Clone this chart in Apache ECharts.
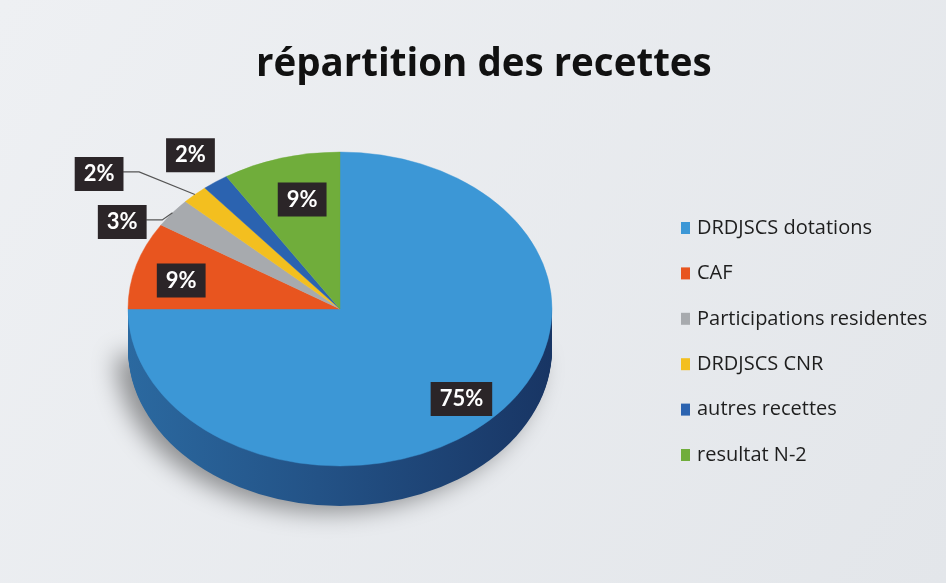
<!DOCTYPE html>
<html>
<head>
<meta charset="utf-8" />
<title>répartition des recettes</title>
<script src="https://cdn.jsdelivr.net/npm/echarts@6/dist/echarts.min.js"></script>
</head>
<body style="margin:0;">
<div id="main" style="width:946px;height:583px;"></div>
<script type="text/javascript">
/* données */
var categories = ['DRDJSCS dotations', 'CAF', 'Participations residentes', 'DRDJSCS CNR', 'autres recettes', 'resultat N-2'];
var values = [75, 9, 3, 2, 2, 9];
var colors = ['#3c97d6', '#e8551f', '#a7aaae', '#f3bf1f', '#2b63b0', '#70ad3b'];

/* mise en page du camembert (px) */
var CX = 340, CY = 309, R = 212, SY = 157 / 212, THICK = 40;
var labelFx = [0.81, 0.78, 1.30, 1.66, 1.20, 0.64];
var labelFy = [0.81, 0.65, 0.905, 1.18, 1.21, 0.726];
var leader = [false, false, true, true, false, false];

var total = values.reduce(function (a, b) { return a + b; }, 0);
var starts = [];
var acc = 0;
values.forEach(function (v) { starts.push(acc); acc += v; });

function ang(frac) { return -Math.PI / 2 + frac * 2 * Math.PI; }

/* couleur sombre de la paroi : mélange avec un bleu nuit */
function shade(hex, f) {
    var c = echarts.color.parse(hex), n = [18, 36, 80];
    return 'rgb(' + Math.round(c[0] * f + n[0] * (1 - f)) + ',' +
        Math.round(c[1] * f + n[1] * (1 - f)) + ',' + Math.round(c[2] * f + n[2] * (1 - f)) + ')';
}

function renderSlice(params, api) {
    var i = params.dataIndex;
    var a0 = ang(starts[i] / total), a1 = ang((starts[i] + api.value(0)) / total);
    var children = [];
    var c = colors[i];

    /* paroi avant : seulement la partie entre 0 et PI */
    var w0 = Math.max(a0, 0), w1 = Math.min(a1, Math.PI);
    if (w1 > w0) {
        var wallFill = new echarts.graphic.LinearGradient(0, 0, 1, 0, [
            { offset: 0, color: shade(c, 0.6) },
            { offset: 0.45, color: shade(c, 0.4) },
            { offset: 1, color: shade(c, 0.15) }
        ]);
        for (var k = THICK; k >= 1; k--) {
            children.push({
                type: 'sector', x: CX, y: CY + k, scaleY: SY, z2: 1,
                shape: { cx: 0, cy: 0, r: R, startAngle: w0, endAngle: w1 },
                style: k === THICK
                    ? { fill: wallFill, shadowBlur: 24, shadowColor: 'rgba(0,0,0,0.4)', shadowOffsetX: -12, shadowOffsetY: 6 }
                    : { fill: wallFill }
            });
        }
    }

    /* face du dessus */
    children.push({
        type: 'sector', x: CX, y: CY, scaleY: SY, z2: 5,
        shape: { cx: 0, cy: 0, r: R, startAngle: a0, endAngle: a1 },
        style: { fill: c, stroke: c, lineWidth: 0.5 }
    });

    /* étiquette */
    var mid = (a0 + a1) / 2;
    var lx = CX + Math.cos(mid) * R * labelFx[i];
    var ly = CY + Math.sin(mid) * R * SY * labelFy[i];
    var txt = Math.round(api.value(0) / total * 100) + '%';
    if (leader[i]) {
        var ex = CX + Math.cos(mid) * R, ey = CY + Math.sin(mid) * R * SY;
        children.push({
            type: 'polyline', z2: 8,
            shape: { points: [[lx + 24, ly - 2], [lx + 40, ly - 2], [ex, ey]] },
            style: { stroke: '#555', lineWidth: 1.2, fill: null }
        });
    }
    children.push({
        type: 'text', x: lx, y: ly, z2: 10,
        style: {
            text: txt, fill: '#ffffff', font: 'bold 22px Lato',
            align: 'center', verticalAlign: 'middle',
            backgroundColor: '#2b2528', padding: [7, 9, 5, 9],
            boxShadowBlur: 4, boxShadowColor: 'rgba(0,0,0,0.35)', boxShadowOffsetX: 2, boxShadowOffsetY: 2
        }
    });

    return { type: 'group', children: children };
}

var chart = echarts.init(document.getElementById('main'));
var option = {
    backgroundColor: new echarts.graphic.LinearGradient(0, 0, 1, 1, [
        { offset: 0, color: '#eef0f3' },
        { offset: 1, color: '#e3e6ea' }
    ]),
    color: colors,
    title: {
        text: 'répartition des recettes',
        left: 251,
        top: 41,
        textStyle: { fontFamily: 'Open Sans', fontWeight: 'bold', fontSize: 38.5, color: '#111' }
    },
    legend: {
        orient: 'vertical',
        left: 681,
        top: 218,
        padding: 0,
        itemWidth: 9,
        itemHeight: 12,
        itemGap: 25.4,
        icon: 'rect',
        data: categories,
        textStyle: { fontFamily: 'Open Sans', fontSize: 20, color: '#1e1e1e', lineHeight: 20, padding: [0, 0, 0, 2] }
    },
    series: [
        {
            /* série cachée : sert uniquement à la légende */
            type: 'pie',
            radius: [0, 0],
            center: [CX, CY],
            silent: true,
            label: { show: false },
            labelLine: { show: false },
            data: categories.map(function (n, i) { return { name: n, value: values[i] }; })
        },
        {
            type: 'custom',
            coordinateSystem: 'none',
            renderItem: renderSlice,
            data: values.map(function (v, i) { return { name: categories[i], value: [v] }; })
        }
    ]
};
chart.setOption(option);
window.onresize = chart.resize;
</script>
</body>
</html>
